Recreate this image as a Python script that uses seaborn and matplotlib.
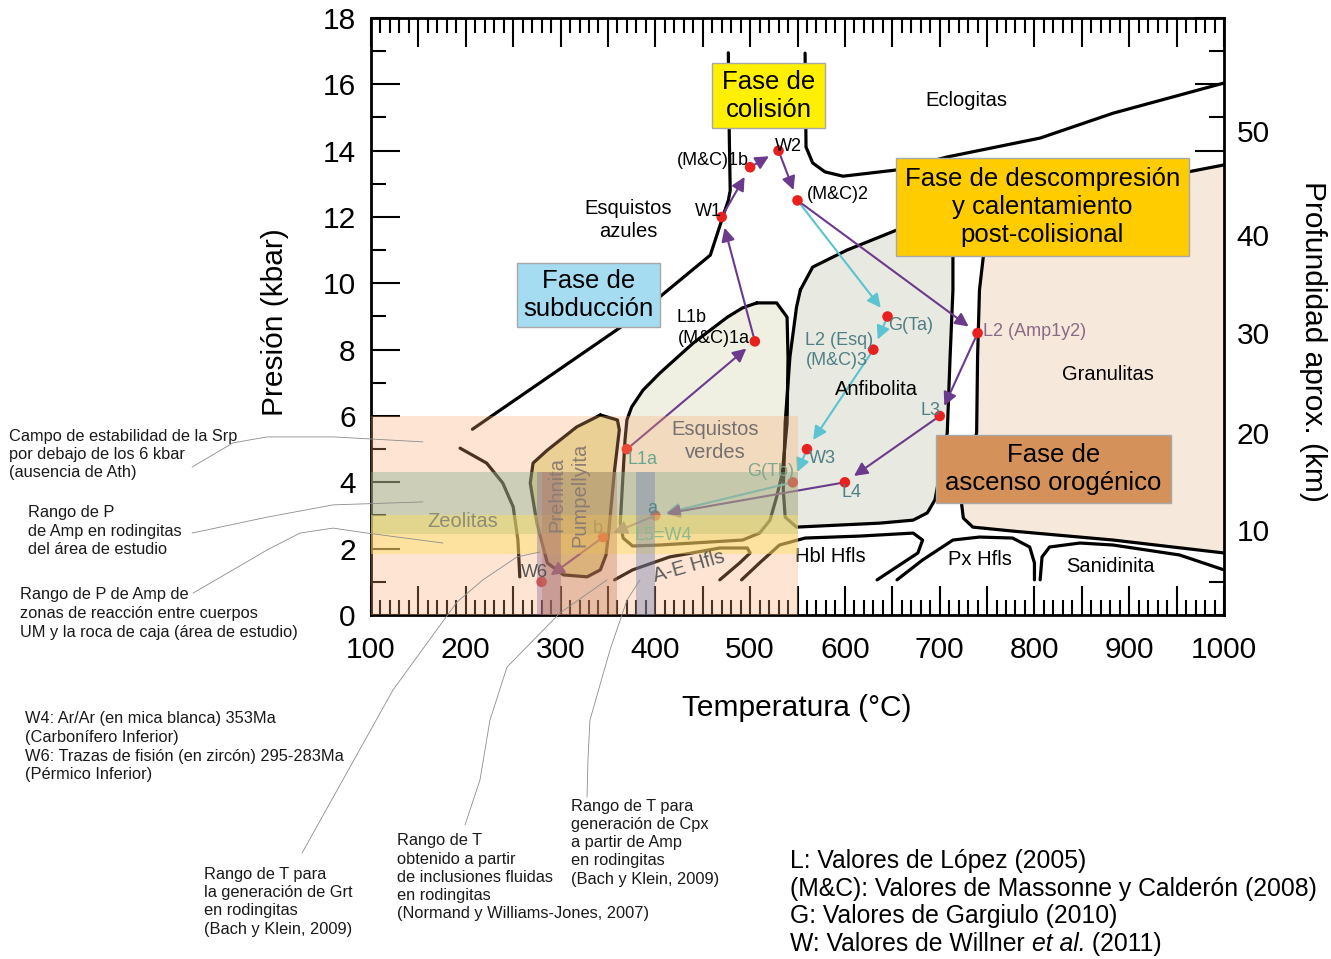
import numpy as np
import pandas as pd
import matplotlib
matplotlib.use('Agg')
import matplotlib.pyplot as plt
from matplotlib.patches import Rectangle
from matplotlib.ticker import MultipleLocator, FuncFormatter
import seaborn as sns

# ---------------- datos (T en °C, P en kbar) ----------------
point_names = ['W1', '(M&C)1b', 'W2', '(M&C)2', 'G(Ta)', 'L2 (Esq)', 'L2 (Amp1y2)', 'L3',
               'W3', 'L4', 'G(Tb)', '(M&C)1a', 'L1a', 'a', 'b', 'W6']
point_T = [470, 500, 530, 550, 645, 630, 740, 700, 560, 600, 545, 505, 370, 400, 345, 280]
point_P = [12.0, 13.5, 14.0, 12.5, 9.0, 8.0, 8.5, 6.0, 5.0, 4.0, 4.0, 8.25, 5.0, 3.0, 2.35, 1.0]

purple_path = ['L1a', '(M&C)1a', 'W1', '(M&C)1b', 'W2', '(M&C)2', 'L2 (Amp1y2)', 'L3', 'L4', 'a', 'b', 'W6']
cyan_path = ['(M&C)2', 'G(Ta)', 'L2 (Esq)', 'W3', 'G(Tb)', 'a']

# campos metamorficos
granulite_T = [1000, 962, 748, 746, 742, 740, 739, 727, 723, 725, 735, 777, 883, 1000]
granulite_P = [13.57, 13.36, 12.5, 10.79, 9.8, 7.78, 5.49, 4.07, 3.38, 2.92, 2.65, 2.53, 2.26, 1.87]

amph_T = [553, 566, 602, 655, 690, 713, 714, 714, 711, 708, 697, 695, 687, 672, 637, 549, 537, 535, 537, 542, 549]
amph_P = [9.8, 10.49, 11.0, 11.61, 11.91, 12.06, 10.79, 9.8, 7.78, 5.49, 3.77, 3.47, 3.08, 2.86, 2.77, 2.65, 2.95, 3.77, 5.79, 7.78, 9.29]

greensch_T = [507, 528, 539, 540, 539, 534, 528, 521, 510, 492, 405, 376, 366, 363, 365, 368, 370, 375, 387, 405, 440, 476, 492]
greensch_P = [9.41, 9.41, 8.98, 7.78, 5.79, 4.28, 3.56, 2.86, 2.47, 2.26, 2.11, 2.08, 2.32, 2.77, 3.77, 5.28, 5.88, 6.27, 6.78, 7.3, 8.2, 8.98, 9.26]

prehnite_T = [342, 360, 362, 357, 354, 351, 348, 342, 328, 303, 286, 275, 268, 271, 286, 317]
prehnite_P = [6.03, 5.88, 5.58, 4.37, 3.47, 2.56, 1.81, 1.36, 1.15, 1.21, 1.57, 2.77, 3.98, 4.58, 4.97, 5.67]

# limites abiertos
blueschist_T = [477, 478, 479, 477, 474, 470, 458, 405, 362, 207]
blueschist_P = [16.95, 14.5, 12.8, 12.5, 12.25, 11.9, 10.85, 9.6, 8.65, 5.6]
eclogite_T = [558, 559, 566, 579, 598, 655, 708, 806, 883, 1000]
eclogite_P = [16.94, 14.11, 13.63, 13.36, 13.23, 13.42, 13.81, 14.38, 15.13, 16.04]
zeolite_T = [194, 222, 239, 250, 255, 257]
zeolite_P = [5.03, 4.58, 3.98, 3.26, 2.26, 1.15]
ae_hfls_T = [357, 376, 415, 468, 497, 500, 489, 468]
ae_hfls_P = [1.06, 1.36, 1.75, 2.02, 2.02, 1.87, 1.57, 1.06]
hbl_hfls_T = [491, 510, 531, 558, 616, 672, 682, 677, 634]
hbl_hfls_P = [1.06, 1.57, 2.11, 2.32, 2.38, 2.47, 2.26, 1.87, 1.06]
px_hfls_T = [655, 682, 714, 742, 777, 795, 800, 800]
px_hfls_P = [1.06, 1.66, 2.26, 2.35, 2.32, 2.05, 1.57, 1.06]
sanid_T = [806, 808, 816, 848, 883, 953, 1000]
sanid_P = [1.06, 1.75, 2.05, 2.17, 2.11, 1.81, 1.36]

# rangos (bandas)
band_T = [100, 550]
srp_P = (0, 6)
amp_rod_P = (2.45, 4.3)
amp_zona_P = (1.85, 3.0)
vband_P = [0, 4.3]
grt_T = (275, 300)
fluid_T = (280, 360)
cpx_T = (380, 400)

# eje de profundidad
depth_km = [10, 20, 30, 40, 50]
depth_at_P = [2.55, 5.5, 8.5, 11.45, 14.6]

# lineas guia de las notas
lead_srp_T = [-88.8, -45.6, -9.7, 59.9, 154.9]
lead_srp_P = [4.46, 5.19, 5.37, 5.37, 5.22]
lead_amp_T = [-88.8, -9.7, 59.9, 154.9]
lead_amp_P = [2.47, 2.95, 3.32, 3.41]
lead_zona_T = [-87.8, -45.6, -9.7, 25.1, 59.9, 95.8, 176.0]
lead_zona_P = [0.66, 1.36, 1.96, 2.47, 2.62, 2.47, 2.17]
lead_grt_T = [27.2, 123.2, 190.7, 218.1, 254.0, 278.3]
lead_grt_P = [-7.18, -2.26, 0.39, 1.06, 1.75, 1.9]
lead_fluid_T = [199.2, 215.0, 225.5, 243.5, 299.4, 349.0]
lead_fluid_P = [-6.33, -4.97, -3.17, -1.57, 0.06, 1.06]
lead_cpx_T = [327.9, 328.9, 331.0, 352.1, 370.1, 383.8]
lead_cpx_P = [-5.49, -4.37, -3.17, -1.06, 0.45, 1.06]

# ---------------- estilo ----------------
sns.set_theme(style='ticks')
plt.rcParams['font.family'] = ['Liberation Sans', 'DejaVu Sans']
plt.rcParams['text.color'] = 'black'
plt.rcParams['xtick.color'] = 'black'
plt.rcParams['ytick.color'] = 'black'
plt.rcParams['xtick.labelcolor'] = 'black'
plt.rcParams['ytick.labelcolor'] = 'black'

fig = plt.figure(figsize=(13.31, 9.59), dpi=100)
ax = fig.add_axes([0.27874, 0.35871, 0.64087, 0.62252])
ax.set_xlim(100, 1000)
ax.set_ylim(0, 18)

pts = pd.DataFrame({'name': point_names, 'T': point_T, 'P': point_P}).set_index('name')

# campos rellenos
ax.fill(granulite_T, granulite_P, color='#f7e8dc', lw=0, zorder=1)
ax.fill(amph_T, amph_P, color='#e8e9e0', lw=0, zorder=1)
ax.fill(greensch_T, greensch_P, color='#eff0e2', lw=0, zorder=1)
ax.fill(prehnite_T, prehnite_P, color='#e4e2a4', lw=0, zorder=1)

line_kw = dict(color='black', lw=2.3, solid_capstyle='round', solid_joinstyle='round', zorder=2)
for xs, ys in [(amph_T, amph_P), (greensch_T, greensch_P), (prehnite_T, prehnite_P)]:
    ax.plot(list(xs) + [xs[0]], list(ys) + [ys[0]], **line_kw)
ax.plot(granulite_T, granulite_P, **line_kw)
for xs, ys in [(blueschist_T, blueschist_P), (eclogite_T, eclogite_P), (zeolite_T, zeolite_P),
               (ae_hfls_T, ae_hfls_P), (hbl_hfls_T, hbl_hfls_P), (px_hfls_T, px_hfls_P), (sanid_T, sanid_P)]:
    sns.lineplot(x=xs, y=ys, sort=False, estimator=None, ax=ax, **line_kw)

# trayectorias
def draw_path(path, color):
    for a, b in zip(path[:-1], path[1:]):
        ax.annotate('', xy=(pts.loc[b, 'T'], pts.loc[b, 'P']), xytext=(pts.loc[a, 'T'], pts.loc[a, 'P']),
                    arrowprops=dict(arrowstyle='-|>,head_length=0.5,head_width=0.25', color=color, lw=1.5,
                                    mutation_scale=16, shrinkA=4, shrinkB=8), zorder=3)

draw_path(cyan_path, '#5cc3d1')
draw_path(purple_path, '#6b3a8c')

sns.scatterplot(data=pts.reset_index(), x='T', y='P', color='#e8201e', s=58, edgecolor='none', zorder=4, ax=ax)

# etiquetas de los puntos
teal = '#4f7f86'
for txt, t, p, c in [('W1', 455.5, 12.18, 'black'), ('(M&C)1b', 460.8, 13.69, 'black'),
                     ('W2', 540.9, 14.14, 'black'), ('(M&C)2', 592.6, 12.69, 'black'),
                     ('G(Ta)', 669.6, 8.74, teal), ('L2 (Esq)', 593.7, 8.29, teal),
                     ('(M&C)3', 591.6, 7.66, teal), ('L2 (Amp1y2)', 800.5, 8.56, '#8a6a86'),
                     ('L3', 690.7, 6.18, teal), ('W3', 576.8, 4.73, teal), ('L4', 607.4, 3.68, teal),
                     ('L1b', 438.6, 8.98, 'black'), ('(M&C)1a', 461.8, 8.35, 'black')]:
    ax.text(t, p, txt, color=c, fontsize=13, ha='center', va='center', zorder=4)

# nombres de facies
for txt, t, p in [('Eclogitas', 727.7, 15.5), ('Esquistos\nazules', 371.1, 11.91), ('Granulitas', 877.5, 7.24),
                  ('Anfibolita', 633.8, 6.81), ('Hbl Hfls', 584.2, 1.75), ('Px Hfls', 742.4, 1.66),
                  ('Sanidinita', 880.6, 1.45)]:
    ax.text(t, p, txt, fontsize=14.5, ha='center', va='center', linespacing=1.25, zorder=4)

# bandas de rangos P y T
ax.fill_between(band_T, *srp_P, color='#f9a870', alpha=0.3, lw=0, zorder=5)
ax.fill_between(band_T, *amp_rod_P, color='#86ae8e', alpha=0.4, lw=0, zorder=5)
ax.fill_between(band_T, *amp_zona_P, color='#fde060', alpha=0.45, lw=0, zorder=5)
ax.fill_betweenx(vband_P, *grt_T, color='#8a6898', alpha=0.4, lw=0, zorder=5)
ax.fill_betweenx(vband_P, *fluid_T, color='#c07850', alpha=0.35, lw=0, zorder=5)
ax.fill_betweenx(vband_P, *cpx_T, color='#7080b0', alpha=0.4, lw=0, zorder=5)

# textos bajo las bandas
for txt, t, p, c, rot, fs in [('Esquistos\nverdes', 462.9, 5.25, '#747070', 0, 14.5),
                              ('Zeolitas', 197.1, 2.83, '#8c8c78', 0, 14.5),
                              ('Prehnita', 296.2, 3.62, '#8c7c72', 90, 14.5),
                              ('Pumpellyita', 320.5, 3.62, '#8c7c72', 90, 14.5),
                              ('A-E Hfls', 435.5, 1.45, '#5c5c5c', 16, 14.5),
                              ('G(Tb)', 522.0, 4.34, '#7ea88c', 0, 13),
                              ('L1a', 386.9, 4.7, '#66a88e', 0, 13),
                              ('a', 396.4, 3.2, '#4f8a8c', 0, 13),
                              ('b', 339.5, 2.62, '#b39c5e', 0, 13),
                              ('L5=W4', 408.0, 2.41, '#8cb88c', 0, 13),
                              ('W6', 272.0, 1.27, '#555555', 0, 13)]:
    ax.text(t, p, txt, color=c, fontsize=fs, rotation=rot, ha='center', va='center',
            linespacing=1.25, zorder=6)

# cajas de fases
for (t0, t1, p0, p1), fc, txt in [((459.7, 578.9, 14.68, 16.64), '#fff000', 'Fase de\ncolisión'),
                                  ((254.0, 404.9, 8.68, 10.61), '#a6dcf2', 'Fase de\nsubducción'),
                                  ((653.8, 962.9, 10.82, 13.78), '#ffcc00',
                                   'Fase de descompresión\ny calentamiento\npost-colisional'),
                                  ((696.0, 943.9, 3.38, 5.43), '#d4915a', 'Fase de\nascenso orogénico')]:
    ax.add_patch(Rectangle((t0, p0), t1 - t0, p1 - p0, facecolor=fc, edgecolor='#a8a8a8', lw=1, zorder=7))
    ax.text((t0 + t1) / 2, (p0 + p1) / 2, txt, fontsize=18.5, ha='center', va='center',
            linespacing=1.22, zorder=8)

# lineas guia
for xs, ys in [(lead_srp_T, lead_srp_P), (lead_amp_T, lead_amp_P), (lead_zona_T, lead_zona_P),
               (lead_grt_T, lead_grt_P), (lead_fluid_T, lead_fluid_P), (lead_cpx_T, lead_cpx_P)]:
    ax.plot(xs, ys, color='#8c8c8c', lw=0.6, clip_on=False, zorder=9)

# ejes
ax.xaxis.set_major_locator(MultipleLocator(50))
ax.xaxis.set_minor_locator(MultipleLocator(10))
ax.xaxis.set_major_formatter(FuncFormatter(lambda v, p: f'{int(v)}' if v % 100 == 0 else ''))
ax.yaxis.set_major_locator(MultipleLocator(2))
ax.yaxis.set_minor_locator(MultipleLocator(1))
for s in ax.spines.values():
    s.set_linewidth(2)
    s.set_color('black')

ax2 = ax.twinx()
ax2.set_ylim(0, 18)
ax2.set_yticks(depth_at_P, labels=[str(d) for d in depth_km])
ax2.tick_params(axis='y', length=0, pad=9, labelsize=21.5, labelcolor='black')
for s in ax2.spines.values():
    s.set_visible(False)

ax.tick_params(which='both', direction='in', top=True, right=True, bottom=True, left=True,
               width=1.5, color='black', labelcolor='black', labelsize=21.5)
ax.tick_params(which='major', length=21)
ax.tick_params(which='minor', length=11)
ax.tick_params(axis='x', pad=15)
ax.tick_params(axis='y', pad=11)
ax.set_xlabel('')
ax.set_ylabel('')

ax.text(0.4994, -0.1558, 'Temperatura (°C)', transform=ax.transAxes, fontsize=21.5, ha='center', va='center')
ax.text(-0.1125, 0.491, 'Presión (kbar)', transform=ax.transAxes, fontsize=21.5, rotation=90,
        ha='center', va='center')
ax.text(1.1043, 0.459, 'Profundidad aprox. (km)', transform=ax.transAxes, fontsize=21.5, rotation=270,
        ha='center', va='center')

# notas exteriores (una linea por texto)
W, H = 1331, 959

def note(x, y_first, lines, fs, dy, color='#1a1a1a'):
    for i, line in enumerate(lines):
        fig.text(x / W, 1 - (y_first + i * dy) / H, line, fontsize=fs, ha='left', va='center', color=color)

note(9, 436, ['Campo de estabilidad de la Srp', 'por debajo de los 6 kbar', '(ausencia de Ath)'], 11.75, 18.5)
note(28, 513, ['Rango de P', 'de Amp en rodingitas', 'del área de estudio'], 11.75, 18.3)
note(20, 595, ['Rango de P de Amp de', 'zonas de reacción entre cuerpos',
               'UM y la roca de caja (área de estudio)'], 11.75, 18.5)
note(25, 719, ['W4: Ar/Ar (en mica blanca) 353Ma', '(Carbonífero Inferior)',
               'W6: Trazas de fisión (en zircón) 295-283Ma', '(Pérmico Inferior)'], 11.75, 18.6)
note(204, 874, ['Rango de T para', 'la generación de Grt', 'en rodingitas', '(Bach y Klein, 2009)'], 11.75, 18.5)
note(397, 841, ['Rango de T', 'obtenido a partir', 'de inclusiones fluidas', 'en rodingitas',
                '(Normand y Williams-Jones, 2007)'], 11.75, 18.1)
note(571, 806, ['Rango de T para', 'generación de Cpx', 'a partir de Amp', 'en rodingitas',
                '(Bach y Klein, 2009)'], 11.75, 18.3)

leg_fs = 17.85
note(790, 861, ['L: Valores de López (2005)', '(M&C): Valores de Massonne y Calderón (2008)',
                'G: Valores de Gargiulo (2010)'], leg_fs, 27.7, color='black')
renderer = fig.canvas.get_renderer()
x_cur = 790
y_last = 1 - (861 + 3 * 27.7) / H
for piece, style in [('W: Valores de Willner ', 'normal'), ('et al.', 'italic'), (' (2011)', 'normal')]:
    t = fig.text(x_cur / W, y_last, piece, fontsize=leg_fs, style=style, ha='left', va='center', color='black')
    x_cur += t.get_window_extent(renderer=renderer).width

fig.savefig('out.png', dpi=100, facecolor='white')
